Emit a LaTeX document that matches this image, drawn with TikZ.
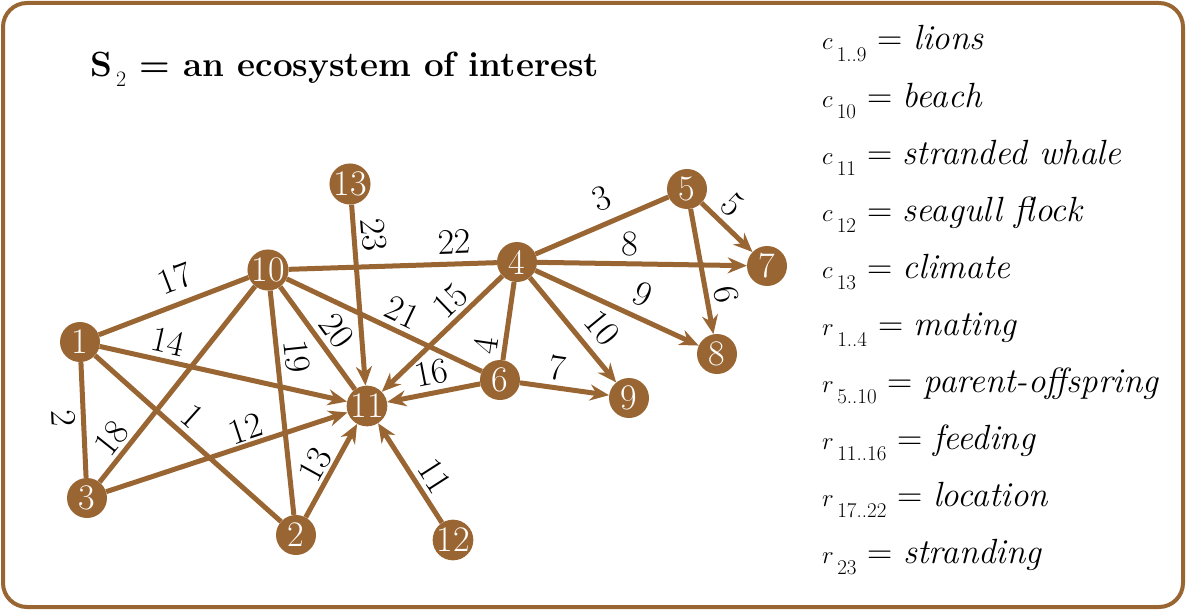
\documentclass[tikz,border=0pt]{standalone}
\usepackage{amsmath}
\usetikzlibrary{arrows.meta}
\definecolor{ecobrown}{RGB}{153,102,51}
\tikzset{
  species/.style={circle, fill=ecobrown, text=white, minimum size=40pt,
    inner sep=0pt, font=\fontsize{36}{36}\selectfont},
  link/.style={ecobrown, line width=5pt},
  feed/.style={link, -{Stealth[length=19pt,width=16pt]}},
  elabel/.style={sloped, above, text=black, font=\fontsize{36}{36}\selectfont, inner sep=5pt},
  legend/.style={anchor=base west, inner sep=0pt, font=\fontsize{35}{35}\selectfont},
}
\newcommand{\legline}[3]{$#1_{\,\lower8pt\hbox{\fontsize{21}{21}\selectfont #2}}$ = \textit{#3}}

\begin{document}
\begin{tikzpicture}[x=1pt, y=-1pt]
    \useasboundingbox (0,0) rectangle (1186,610);
    \draw[ecobrown, line width=4pt, rounded corners=24pt] (3,3) rectangle (1183,607);

    % title
    \node[anchor=base west, inner sep=0pt, font=\fontsize{35}{35}\selectfont\bfseries]
      (title) at (90,77) {S$_{\,\lower6pt\hbox{\mdseries\fontsize{22}{22}\selectfont 2}}$ = an ecosystem of interest};

    % components
    \node[species] (n1) at (80,342) {1};
    \node[species] (n2) at (296,535) {2};
    \node[species] (n3) at (87,498) {3};
    \node[species] (n4) at (517,262) {4};
    \node[species] (n5) at (687,189) {5};
    \node[species] (n6) at (500,380) {6};
    \node[species] (n7) at (767,266) {7};
    \node[species] (n8) at (717,354) {8};
    \node[species] (n9) at (629,398) {9};
    \node[species] (n10) at (268,270) {10};
    \node[species] (n11) at (367,406) {11};
    \node[species] (n12) at (453,540) {12};
    \node[species] (n13) at (350,184) {13};

    % relations
    \draw[link] (n1) -- node[elabel, pos=.455] {1} (n2);
    \draw[link] (n1) -- node[elabel, pos=.476, below] {2} (n3);
    \draw[link] (n4) -- node[elabel, pos=.573, inner sep=10pt] {3} (n5);
    \draw[link] (n4) -- node[elabel, pos=.846] {4} (n6);
    \draw[feed] (n5) -- node[elabel, pos=.336] {5} (n7);
    \draw[feed] (n5) -- node[elabel, pos=.716] {6} (n8);
    \draw[feed] (n6) -- node[elabel, pos=.39] {7} (n9);
    \draw[feed] (n4) -- node[elabel, pos=.44] {8} (n7);
    \draw[feed] (n4) -- node[elabel, pos=.6, inner sep=9pt] {9} (n8);
    \draw[feed] (n4) -- node[elabel, pos=.626, inner sep=9pt] {10} (n9);
    \draw[feed] (n12) -- node[elabel, pos=.365] {11} (n11);
    \draw[feed] (n3) -- node[elabel, pos=.6, inner sep=2pt] {12} (n11);
    \draw[feed] (n2) -- node[elabel, pos=.477, inner sep=2pt] {13} (n11);
    \draw[feed] (n1) -- node[elabel, pos=.258] {14} (n11);
    \draw[feed] (n4) -- node[elabel, pos=.327, inner sep=3pt] {15} (n11);
    \draw[feed] (n6) -- node[elabel, pos=.485] {16} (n11);
    \draw[link] (n1) -- node[elabel, pos=.569, inner sep=10pt] {17} (n10);
    \draw[link] (n3) -- node[elabel, pos=.168, inner sep=3pt] {18} (n10);
    \draw[link] (n10) -- node[elabel, pos=.304] {19} (n2);
    \draw[link] (n10) -- node[elabel, pos=.544] {20} (n11);
    \draw[link] (n10) -- node[elabel, pos=.551] {21} (n6);
    \draw[link] (n10) -- node[elabel, pos=.8, inner sep=8pt] {22} (n4);
    \draw[feed] (n13) -- node[elabel, pos=.175] {23} (n11);

    % legend
    \node[legend] (c1) at (822,50) {\legline{c}{1..9}{lions}};
    \node[legend] (c2) at (822,107) {\legline{c}{10}{beach}};
    \node[legend] (c3) at (822,164) {\legline{c}{11}{stranded whale}};
    \node[legend] (c4) at (822,221) {\legline{c}{12}{seagull flock}};
    \node[legend] (c5) at (822,278) {\legline{c}{13}{climate}};
    \node[legend] (r1) at (822,335) {\legline{r}{1..4}{mating}};
    \node[legend] (r2) at (822,392) {\legline{r}{5..10}{parent-offspring}};
    \node[legend] (r3) at (822,449) {\legline{r}{11..16}{feeding}};
    \node[legend] (r4) at (822,506) {\legline{r}{17..22}{location}};
    \node[legend] (r5) at (822,563) {\legline{r}{23}{stranding}};
\end{tikzpicture}
\end{document}
